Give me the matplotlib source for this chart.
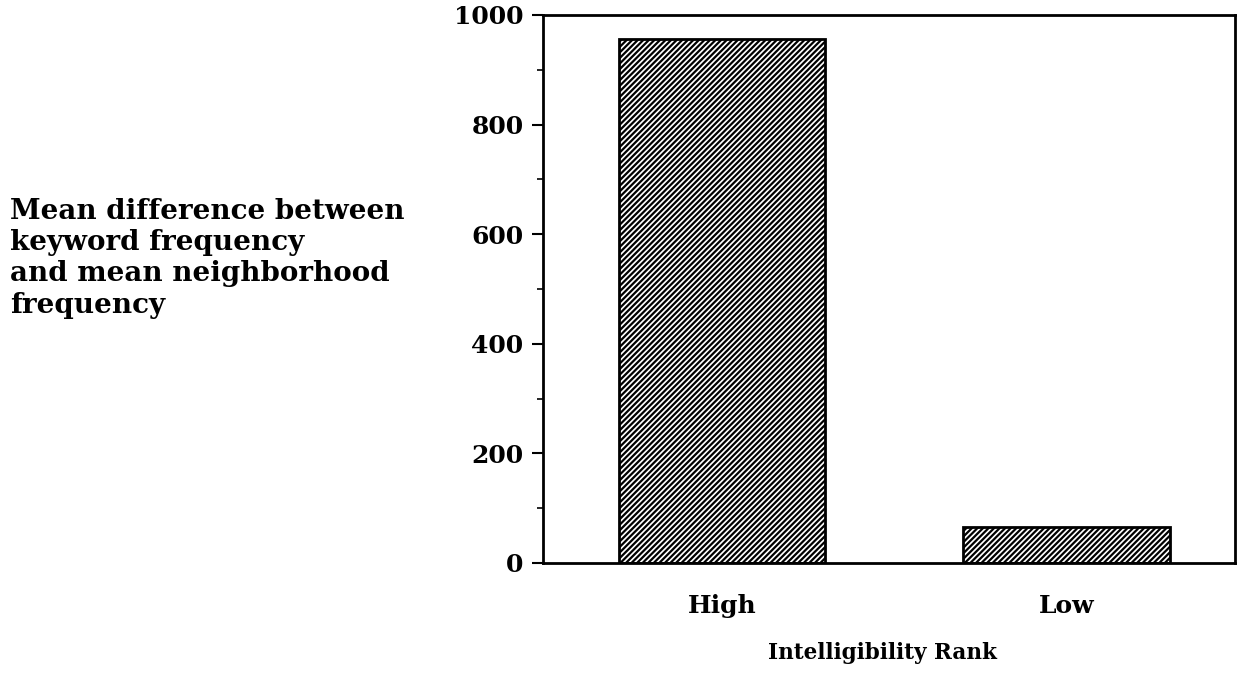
import matplotlib.pyplot as plt
from matplotlib.ticker import MultipleLocator

categories = ["High", "Low"]
mean_diff = [956, 66]
y_ticks = [0, 200, 400, 600, 800, 1000]

plt.rcParams['font.family'] = ['DejaVu Serif']
plt.rcParams['hatch.linewidth'] = 1.6

fig = plt.figure(figsize=(12.37, 6.74), dpi=100)
ax = fig.add_axes([543 / 1237, 1 - 563 / 674, (1235 - 543) / 1237, (563 - 15) / 674])

x = range(len(categories))
ax.bar(x, mean_diff, width=0.6, color='white', edgecolor='black',
       hatch='//////', linewidth=2, zorder=2)

ax.set_xlim(-0.52, 1.49)
ax.set_ylim(0, 1000)
ax.set_yticks(y_ticks)
ax.set_yticklabels([str(v) for v in y_ticks], fontsize=18, fontweight='bold')
ax.yaxis.set_minor_locator(MultipleLocator(100))
ax.set_xticks(list(x))
ax.set_xticklabels(categories, fontsize=18, fontweight='bold')
ax.tick_params(axis='y', which='major', direction='out', length=8, width=1.5, pad=6)
ax.tick_params(axis='y', which='minor', direction='out', length=4, width=1.2)
ax.tick_params(axis='x', length=0, pad=22)

for s in ax.spines.values():
    s.set_linewidth(2)

ax.set_xlabel("Intelligibility Rank", fontsize=15.5, fontweight='bold')
ax.xaxis.set_label_coords(0.49, -0.145)

fig.text(10 / 1237, 1 - 198 / 674,
         "Mean difference between\nkeyword frequency\nand mean neighborhood\nfrequency",
         fontsize=20, fontweight='bold', va='top', ha='left', linespacing=1.2)

fig.savefig("out.png", dpi=100)
